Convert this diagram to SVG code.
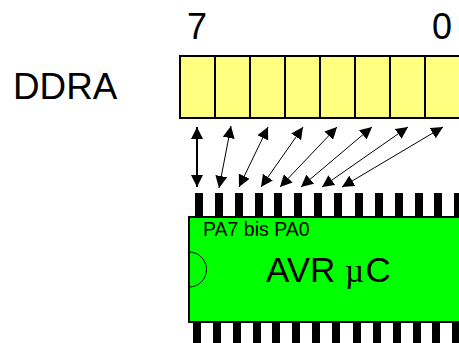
<svg xmlns="http://www.w3.org/2000/svg" width="459" height="343" viewBox="0 0 459 343">
<style>
text{font-family:"Liberation Sans",Arial,sans-serif;fill:#000}
.big{font-size:35px}
.cell{fill:#ffff80;stroke:#000;stroke-width:2}
.pin{fill:#000}
.a{stroke:#000;stroke-width:1;fill:none;marker-start:url(#h);marker-end:url(#h)}
</style>
<defs>
<marker id="h" viewBox="0 0 12 12" refX="12" refY="6" markerWidth="12" markerHeight="12" markerUnits="userSpaceOnUse" orient="auto-start-reverse"><path d="M0 0L12 6L0 12Z" fill="#000"/></marker>
<g id="pins"><rect class="pin" x="0" width="8" height="23"/><rect class="pin" x="20" width="8" height="23"/><rect class="pin" x="40" width="8" height="23"/><rect class="pin" x="60" width="8" height="23"/><rect class="pin" x="79" width="8" height="23"/><rect class="pin" x="99" width="8" height="23"/><rect class="pin" x="119" width="8" height="23"/><rect class="pin" x="139" width="8" height="23"/><rect class="pin" x="160" width="8" height="23"/><rect class="pin" x="180" width="8" height="23"/><rect class="pin" x="200" width="8" height="23"/><rect class="pin" x="220" width="8" height="23"/><rect class="pin" x="239" width="8" height="23"/><rect class="pin" x="259" width="8" height="23"/></g>
</defs>
<g id="label-ddra"><text x="13" y="99" font-size="36.800px">DDRA</text></g>
<g id="label-7"><text x="187" y="39" font-size="36px">7</text></g>
<g id="label-0"><text x="432" y="39" font-size="36px">0</text></g>
<g id="register">
<rect class="cell" x="180" y="56" width="35" height="62"/><rect class="cell" x="215" y="56" width="35" height="62"/><rect class="cell" x="250" y="56" width="35" height="62"/><rect class="cell" x="285" y="56" width="35" height="62"/><rect class="cell" x="320" y="56" width="35" height="62"/><rect class="cell" x="355" y="56" width="35" height="62"/><rect class="cell" x="390" y="56" width="35" height="62"/><rect class="cell" x="425" y="56" width="35" height="62"/>
</g>
<g id="connectors">
<path class="a" style="stroke-width:2" d="M197 127V187"/>
<path class="a" d="M231 126L219 188"/>
<path class="a" d="M268 127L239 187"/>
<path class="a" d="M303 127L261 187"/>
<path class="a" d="M337 127L280 187"/>
<path class="a" d="M372 127L301 187"/>
<path class="a" d="M408 127L322 187"/>
<path class="a" d="M443 127L342 187"/>
</g>
<g id="chip">
<use href="#pins" x="195" y="193"/>
<use href="#pins" x="193" y="321"/>
<rect x="189" y="217" width="280" height="105" fill="#00ff00" stroke="#000" stroke-width="2"/>
<path d="M189 252A17.500 17.500 0 0 1 189 287" fill="none" stroke="#000" stroke-width="1"/>
<text x="203" y="236" font-size="19.500px">PA7 bis PA0</text>
<text class="big" x="266" y="282">AVR <tspan x="345" style="font-family:'Liberation Serif',serif" font-size="33px">µ</tspan><tspan x="365.500">C</tspan></text>
</g>
</svg>
